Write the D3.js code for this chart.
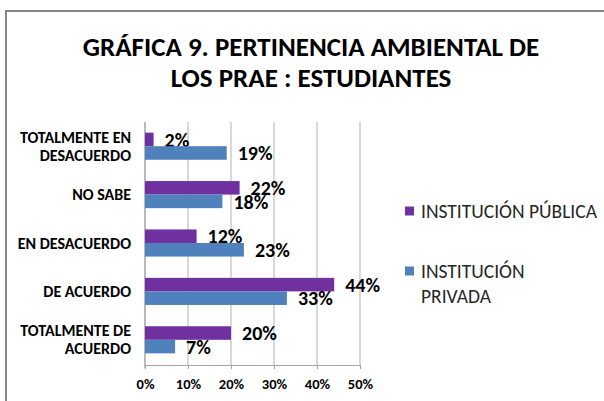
<!DOCTYPE html>
<html>
<head>
<meta charset="utf-8">
<script src="https://cdn.jsdelivr.net/npm/d3@7"></script>
<style>
  body { margin: 0; background: #fff; }
  svg { display: block; font-family: Carlito, 'Open Sans', sans-serif; }
</style>
</head>
<body>
<div id="container"></div>
<script>
const categories = ['TOTALMENTE EN DESACUERDO', 'NO SABE', 'EN DESACUERDO', 'DE ACUERDO', 'TOTALMENTE DE ACUERDO'];
const categoryLines = [['TOTALMENTE EN', 'DESACUERDO'], ['NO SABE'], ['EN DESACUERDO'], ['DE ACUERDO'], ['TOTALMENTE DE', 'ACUERDO']];
const publica = [2, 22, 12, 44, 20];
const privada = [19, 18, 23, 33, 7];
const seriesNames = ['INSTITUCIÓN PÚBLICA', 'INSTITUCIÓN PRIVADA'];
const xTicks = [0, 10, 20, 30, 40, 50];

const width = 604, height = 401;
const colors = ['#7030A0', '#4F81BD'];
const font = 'Carlito, "Open Sans", sans-serif';

let svg = d3.select('#container').append('svg')
  .attr('width', width)
  .attr('height', height);

// frame (cut by the picture edge)
svg.append('rect')
  .attr('x', 6).attr('y', 11)
  .attr('width', 700).attr('height', 500)
  .attr('fill', 'none')
  .attr('stroke', '#868686')
  .attr('stroke-width', 2);

// title
svg.append('text')
  .attr('text-anchor', 'middle')
  .attr('font-weight', 'bold')
  .attr('font-size', 27)
  .attr('fill', '#000')
  .selectAll('tspan')
  .data(['GRÁFICA 9. PERTINENCIA AMBIENTAL DE', 'LOS PRAE : ESTUDIANTES'])
  .enter().append('tspan')
  .attr('x', 311)
  .attr('y', (d, i) => 56 + i * 31)
  .text((d) => d);

const x = d3.scaleLinear().domain([0, 50]).range([145, 360]);
const y = d3.scaleBand().domain(categories).range([122, 364]).paddingInner(0.44).paddingOuter(0.22);
const ySub = d3.scaleBand().domain([0, 1]).range([0, y.bandwidth()]);

// gridlines
svg.append('g')
  .selectAll('line')
  .data(xTicks)
  .enter().append('line')
  .attr('x1', (d) => x(d)).attr('x2', (d) => x(d))
  .attr('y1', 122).attr('y2', 365)
  .attr('stroke', '#BFBFBF')
  .attr('stroke-width', 1.2);

// x axis
let xAxis = svg.append('g')
  .attr('transform', 'translate(0,365)')
  .call(d3.axisBottom(x).tickValues(xTicks).tickFormat((d) => d + '%').tickSize(4));
xAxis.select('.domain').attr('stroke', '#A6A6A6').attr('stroke-width', 1.2);
xAxis.selectAll('.tick line').attr('stroke', '#A6A6A6');
xAxis.selectAll('.tick text')
  .attr('font-family', font)
  .attr('font-size', 14.5)
  .attr('font-weight', 'bold')
  .attr('fill', '#000')
  .attr('dy', '1.15em');

// y axis line
svg.append('line')
  .attr('x1', 145).attr('x2', 145)
  .attr('y1', 122).attr('y2', 368)
  .attr('stroke', '#A6A6A6')
  .attr('stroke-width', 1.2);

// category labels
let catLabels = svg.append('g')
  .selectAll('text')
  .data(categories)
  .enter().append('text')
  .attr('text-anchor', 'end')
  .attr('font-weight', 'bold')
  .attr('font-size', 16)
  .attr('fill', '#000');
catLabels.each(function(d, i) {
  let lines = categoryLines[i];
  let cy = y(d) + y.bandwidth() / 2;
  d3.select(this).selectAll('tspan')
    .data(lines)
    .enter().append('tspan')
    .attr('x', 131)
    .attr('y', (l, j) => cy + (j - (lines.length - 1) / 2) * 18)
    .attr('dy', '0.35em')
    .text((l) => l);
});

// bars
const series = [publica, privada];
series.forEach((vals, s) => {
  let g = svg.append('g');
  g.selectAll('rect')
    .data(vals)
    .enter().append('rect')
    .attr('x', x(0))
    .attr('y', (d, i) => y(categories[i]) + ySub(s))
    .attr('width', (d) => x(d) - x(0))
    .attr('height', ySub.bandwidth())
    .attr('fill', colors[s]);
  g.selectAll('text')
    .data(vals)
    .enter().append('text')
    .attr('x', (d) => x(d) + 11)
    .attr('y', (d, i) => y(categories[i]) + ySub(s) + ySub.bandwidth() / 2)
    .attr('dy', '0.36em')
    .attr('font-weight', 'bold')
    .attr('font-size', 20)
    .attr('fill', '#000')
    .text((d) => d + '%');
});

// legend
let legend = svg.append('g');
const legendRows = [[seriesNames[0]], ['INSTITUCIÓN', 'PRIVADA']];
const legendY = [211, 271];
legendRows.forEach((lines, s) => {
  legend.append('rect')
    .attr('x', 405).attr('y', legendY[s] - 4.5)
    .attr('width', 9).attr('height', 9)
    .attr('fill', colors[s]);
  legend.append('text')
    .attr('font-size', 19.5)
    .attr('fill', '#262626')
    .selectAll('tspan')
    .data(lines)
    .enter().append('tspan')
    .attr('x', 421)
    .attr('y', (l, j) => legendY[s] + j * 24.5)
    .attr('dy', '0.36em')
    .text((l) => l);
});
</script>
</body>
</html>
